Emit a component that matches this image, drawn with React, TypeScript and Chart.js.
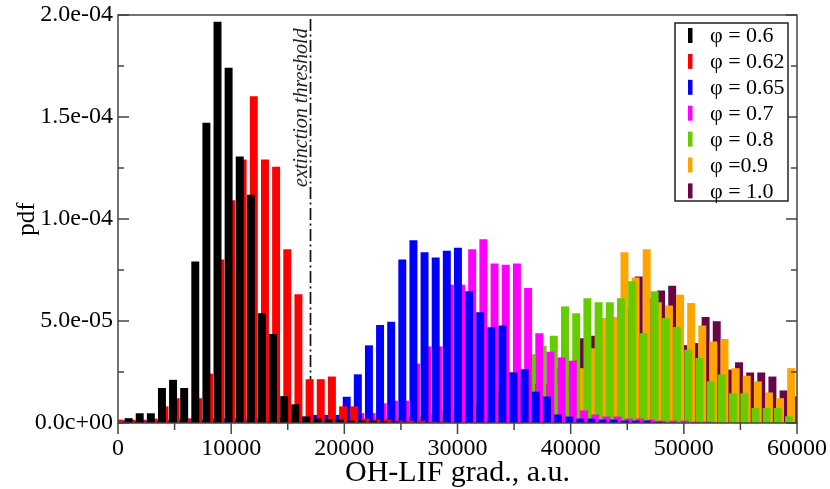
import React, { useEffect, useRef } from "react";
import { Chart, registerables } from "chart.js";

Chart.register(...registerables);

// ---------- data ----------
const SERIES_LABELS = ["φ = 0.6", "φ = 0.62", "φ = 0.65", "φ = 0.7", "φ = 0.8", "φ =0.9", "φ = 1.0"];
const SERIES_COLORS = ["#000000", "#ff0000", "#0000ff", "#ff00ff", "#66cc00", "#ffa500", "#670748"];

// histogram bin grid of each series (centre of first bin, bin width), OH-LIF grad. units
const BIN_START = [937, 168, 548, 11538, 19698, 20206, 20436];
const BIN_WIDTH = [982, 986, 983, 988, 990, 982, 984];

const PDF_PHI_060 = [2.2e-6, 4.6e-6, 4.6e-6, 1.7e-5, 2.1e-5, 1.7e-5, 7.9e-5, 1.47e-4, 1.965e-4, 1.74e-4, 1.305e-4, 1.117e-4, 5.36e-5, 4.35e-5, 1.3e-5, 9e-6, 3e-6, 2e-6, 1.5e-6, 1.5e-6, 1e-6, 1e-6, 1e-6, 5e-7, 5e-7];
const PDF_PHI_062 = [1.5e-6, 1.5e-6, 1.5e-6, 2e-6, 8e-6, 1.2e-5, 2e-6, 1.2e-5, 2.4e-5, 8e-5, 1.09e-4, 1.29e-4, 1.6e-4, 1.29e-4, 1.255e-4, 8.5e-5, 6.3e-5, 2.13e-5, 2.13e-5, 2.26e-5, 8e-6, 8e-6, 2e-6, 1.5e-6, 1.5e-6, 1e-6, 1e-6, 1e-6, 5e-7, 5e-7];
const PDF_PHI_065 = [1e-6, 1e-6, 1e-6, 1.5e-6, 1.5e-6, 1.5e-6, 2e-6, 1.5e-6, 2e-6, 2e-6, 2e-6, 1.5e-6, 2e-6, 2.5e-6, 2.5e-6, 2e-6, 3e-6, 3.8e-6, 3.8e-6, 3.8e-6, 1.27e-5, 2.37e-5, 3.79e-5, 4.79e-5, 4.95e-5, 8.0e-5, 8.94e-5, 8.35e-5, 8.1e-5, 8.43e-5, 8.58e-5, 6.44e-5, 5.41e-5, 4.68e-5, 4.76e-5, 2.46e-5, 2.62e-5, 1.52e-5, 1.28e-5, 4e-6, 3e-6, 2e-6, 2e-6, 1.5e-6, 1.5e-6, 1e-6, 1e-6, 1e-6, 5e-7];
const PDF_PHI_070 = [1e-6, 1e-6, 1e-6, 1.5e-6, 1.5e-6, 1.5e-6, 2e-6, 2e-6, 2.5e-6, 3e-6, 4.7e-6, 4.7e-6, 9.5e-6, 1.08e-5, 1.08e-5, 2.9e-5, 3.74e-5, 3.74e-5, 6.76e-5, 6.76e-5, 8.5e-5, 8.99e-5, 7.8e-5, 7.74e-5, 7.8e-5, 6.6e-5, 4.38e-5, 3.48e-5, 3.2e-5, 3.04e-5, 6e-6, 4e-6, 3e-6, 3e-6, 2e-6, 2e-6, 1.5e-6, 1e-6, 1e-6, 1e-6, 5e-7, 5e-7];
const PDF_PHI_080 = [3e-6, 1.5e-6, 1.5e-6, 2e-6, 2e-6, 2.2e-6, 3e-6, 3e-6, 4e-6, 6.4e-6, 6e-6, 7.2e-6, 8.8e-6, 1e-5, 1.44e-5, 2.5e-5, 2.13e-5, 3.36e-5, 3.77e-5, 4.26e-5, 5.7e-5, 5.36e-5, 6.1e-5, 5.9e-5, 5.9e-5, 6.1e-5, 6.93e-5, 4.38e-5, 6.44e-5, 5.13e-5, 4.69e-5, 3.58e-5, 3.17e-5, 2.03e-5, 2.36e-5, 1.44e-5, 1.44e-5, 7.2e-6, 7.2e-6, 7.2e-6, 3.1e-6];
const PDF_PHI_090 = [1e-6, 1e-6, 3e-6, 1.5e-6, 2e-6, 2e-6, 2.5e-6, 2e-6, 3e-6, 3e-6, 2.5e-6, 3e-6, 3e-6, 2.5e-6, 1.3e-6, 4.3e-6, 3e-6, 4.7e-6, 4.7e-6, 1.98e-5, 1.52e-5, 2.67e-5, 3.65e-5, 5.13e-5, 5.18e-5, 8.35e-5, 7.12e-5, 8.5e-5, 5.9e-5, 5.74e-5, 6.27e-5, 5.87e-5, 4.76e-5, 3.98e-5, 4.1e-5, 2.67e-5, 2.3e-5, 2.02e-5, 1.48e-5, 1.2e-5, 2.67e-5];
const PDF_PHI_100 = [1e-6, 1e-6, 1.5e-6, 1.5e-6, 1.5e-6, 2e-6, 2e-6, 1.5e-6, 2e-6, 2e-6, 2.5e-6, 2e-6, 2.5e-6, 2.5e-6, 2.3e-6, 9.3e-6, 1.36e-5, 1.9e-5, 1.9e-5, 2.67e-5, 2.39e-5, 4.14e-5, 4.26e-5, 4.83e-5, 5.18e-5, 5.53e-5, 7.17e-5, 6.1e-5, 6.48e-5, 6.71e-5, 3.8e-5, 3.9e-5, 5.18e-5, 4.97e-5, 2.6e-5, 2.96e-5, 2.46e-5, 2.46e-5, 2.26e-5, 1.58e-5, 1.29e-5];

const SERIES_VALUES = [PDF_PHI_060, PDF_PHI_062, PDF_PHI_065, PDF_PHI_070, PDF_PHI_080, PDF_PHI_090, PDF_PHI_100];

const X_MIN = 0;
const X_MAX = 60000;
const X_TICKS = [0, 10000, 20000, 30000, 40000, 50000, 60000];
const X_MINOR_TICKS = [5000, 15000, 25000, 35000, 45000, 55000];
const Y_MIN = 0;
const Y_MAX = 2.0e-4;
const Y_TICKS = [0, 5e-5, 1e-4, 1.5e-4, 2e-4];
const Y_TICK_LABELS = ["0.0c+00", "5.0e-05", "1.0e-04", "1.5e-04", "2.0e-04"];
const Y_MINOR_TICKS = [2.5e-5, 7.5e-5, 1.25e-4, 1.75e-4];

const THRESHOLD_X = 17000;
const THRESHOLD_LABEL = "extinction threshold";
const X_TITLE = "OH-LIF grad., a.u.";
const Y_TITLE = "pdf";

const SERIF = "'Liberation Serif', 'Times New Roman', serif";

const decorPlugin = {
  id: "decor",
  beforeDatasetsDraw(chart: any) {
    const { ctx, chartArea, scales } = chart;
    const x = Math.round(scales.x.getPixelForValue(THRESHOLD_X)) + 0.5;
    ctx.save();
    ctx.strokeStyle = "#111";
    ctx.lineWidth = 1.7;
    ctx.setLineDash([12, 3.5, 2, 3.5]);
    ctx.beginPath();
    ctx.moveTo(x, chartArea.top + 4);
    ctx.lineTo(x, chartArea.bottom);
    ctx.stroke();
    ctx.restore();
  },
  afterDatasetsDraw(chart: any) {
    const { ctx, chartArea, scales } = chart;
    const { left, right, top, bottom } = chartArea;
    const xs = scales.x;
    const ys = scales.y;
    ctx.save();
    // frame
    ctx.strokeStyle = "#444";
    ctx.lineWidth = 1.5;
    ctx.strokeRect(left, top, right - left, bottom - top);
    // ticks
    ctx.beginPath();
    X_TICKS.forEach((v) => {
      const px = xs.getPixelForValue(v);
      ctx.moveTo(px, bottom);
      ctx.lineTo(px, bottom + 11);
    });
    X_MINOR_TICKS.forEach((v) => {
      const px = xs.getPixelForValue(v);
      ctx.moveTo(px, bottom);
      ctx.lineTo(px, bottom + 7);
    });
    Y_TICKS.forEach((v) => {
      const py = ys.getPixelForValue(v);
      ctx.moveTo(left, py);
      ctx.lineTo(left + 11, py);
      ctx.moveTo(right, py);
      ctx.lineTo(right - 11, py);
    });
    Y_MINOR_TICKS.forEach((v) => {
      const py = ys.getPixelForValue(v);
      ctx.moveTo(left, py);
      ctx.lineTo(left + 6, py);
      ctx.moveTo(right, py);
      ctx.lineTo(right - 6, py);
    });
    ctx.stroke();

    // threshold label
    const tx = xs.getPixelForValue(THRESHOLD_X);
    ctx.save();
    ctx.translate(tx - 3.5, top + 172);
    ctx.rotate(-Math.PI / 2);
    ctx.fillStyle = "#222";
    ctx.font = `italic 20px ${SERIF}`;
    ctx.textAlign = "left";
    ctx.textBaseline = "alphabetic";
    ctx.fillText(THRESHOLD_LABEL, 0, 0);
    ctx.restore();

    // legend
    const bw = 113;
    const bh = 178;
    const bx = right - 9 - bw;
    const by = top + 8;
    ctx.fillStyle = "#fff";
    ctx.fillRect(bx, by, bw, bh);
    ctx.strokeStyle = "#222";
    ctx.lineWidth = 1.5;
    ctx.strokeRect(bx, by, bw, bh);
    ctx.font = `22px ${SERIF}`;
    ctx.textBaseline = "middle";
    ctx.textAlign = "left";
    SERIES_LABELS.forEach((label, i) => {
      const cy = by + 12.5 + i * 25.9;
      ctx.fillStyle = SERIES_COLORS[i];
      ctx.fillRect(bx + 13, cy - 7.5, 4.5, 15);
      ctx.fillStyle = "#000";
      ctx.fillText(label, bx + 35, cy + 1);
    });
    ctx.restore();
  },
};

export default function App() {
  const canvasRef = useRef<HTMLCanvasElement | null>(null);

  useEffect(() => {
    document.body.style.margin = "0";
    const canvas = canvasRef.current;
    if (!canvas) return;

    const datasets = SERIES_VALUES.map((vals, s) => ({
      label: SERIES_LABELS[s],
      data: vals.map((y, i) => ({ x: BIN_START[s] + i * BIN_WIDTH[s], y })),
      backgroundColor: SERIES_COLORS[s],
      borderWidth: 0,
      grouped: false,
      barThickness: 7.3,
      clip: 0,
    }));

    const chart = new Chart(canvas, {
      type: "bar",
      data: { datasets: datasets as any },
      plugins: [decorPlugin],
      options: {
        animation: false,
        responsive: false,
        devicePixelRatio: 1,
        layout: { padding: { left: 0, right: 33, top: 15, bottom: 0 } },
        plugins: { legend: { display: false }, tooltip: { enabled: false } },
        scales: {
          x: {
            type: "linear",
            min: X_MIN,
            max: X_MAX,
            offset: false,
            grid: { display: false, drawTicks: false, offset: false },
            border: { display: false },
            afterBuildTicks: (scale: any) => {
              scale.ticks = X_TICKS.map((v) => ({ value: v }));
            },
            afterFit: (scale: any) => {
              scale.height = 66;
              scale.paddingLeft = 0;
              scale.paddingRight = 0;
            },
            ticks: {
              color: "#000",
              font: { family: SERIF, size: 24 },
              padding: 11,
              maxRotation: 0,
              autoSkip: false,
              callback: (v: any) => String(v),
            },
            title: {
              display: true,
              text: X_TITLE,
              color: "#000",
              font: { family: SERIF, size: 30, lineHeight: 1 },
              padding: { top: 0, bottom: 1 },
            },
          },
          y: {
            type: "linear",
            min: Y_MIN,
            max: Y_MAX,
            grid: { display: false, drawTicks: false },
            border: { display: false },
            afterBuildTicks: (scale: any) => {
              scale.ticks = Y_TICKS.map((v) => ({ value: v }));
            },
            afterFit: (scale: any) => {
              scale.width = 118;
              scale.paddingTop = 0;
              scale.paddingBottom = 0;
            },
            ticks: {
              color: "#000",
              font: { family: SERIF, size: 24 },
              padding: 5,
              autoSkip: false,
              callback: (_v: any, i: number) => Y_TICK_LABELS[i],
            },
            title: {
              display: true,
              text: Y_TITLE,
              color: "#000",
              font: { family: SERIF, size: 25, lineHeight: 1 },
              padding: { top: 15, bottom: 0 },
            },
          },
        },
      } as any,
    });

    return () => chart.destroy();
  }, []);

  return (
    <div style={{ width: 830, height: 489 }}>
      <canvas ref={canvasRef} width={830} height={489} style={{ display: "block" }} />
    </div>
  );
}
